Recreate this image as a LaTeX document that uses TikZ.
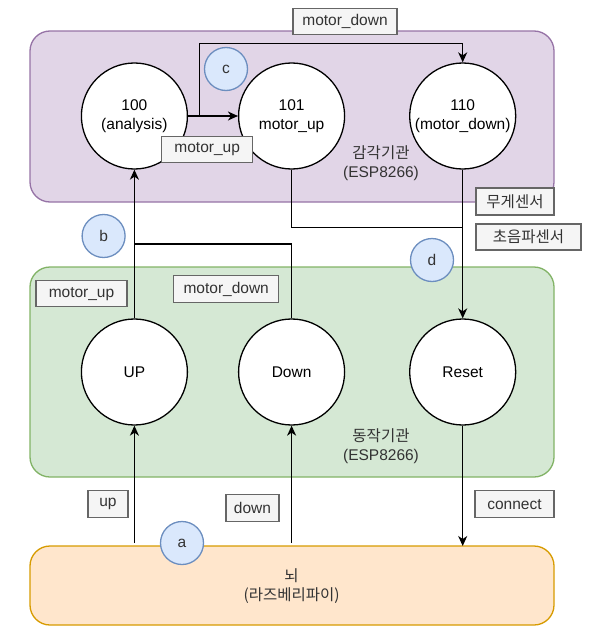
\documentclass[tikz,border=0pt]{standalone}
\usepackage{fontspec}
\setmainfont{Liberation Sans}
\newfontfamily\kr{Noto Sans CJK KR}
\usetikzlibrary{arrows.meta,calc}
\definecolor{purpF}{HTML}{E1D5E7}
\definecolor{purpD}{HTML}{9673A6}
\definecolor{greenF}{HTML}{D5E8D4}
\definecolor{greenD}{HTML}{82B366}
\definecolor{orF}{HTML}{FFE6CC}
\definecolor{orD}{HTML}{D79B00}
\definecolor{blueF}{HTML}{DAE8FC}
\definecolor{blueD}{HTML}{6C8EBF}
\definecolor{lblF}{HTML}{F5F5F5}
\definecolor{lblD}{HTML}{666666}
\definecolor{lblT}{HTML}{333333}
\tikzset{
  container/.style={rounded corners=20pt, line width=1.3pt},
  state/.style={circle, draw=black, fill=white, line width=1.3pt, minimum size=106pt, inner sep=0pt, align=center},
  tag/.style={circle, draw=blueD, fill=blueF, line width=1.3pt, minimum size=43pt, inner sep=0pt, text=lblT},
  lbl/.style={rectangle, draw=lblD, fill=lblF, line width=1.3pt, text=lblT, inner sep=0pt, minimum height=26pt},
  conn/.style={draw=black, line width=1.3pt},
  arr/.style={conn, -{Stealth[length=10pt,width=9pt,inset=3pt]}},
  txt/.style={align=center, text=lblT}
}
\begin{document}
\begin{tikzpicture}[x=1pt,y=-1pt, font=\fontsize{15.5}{18.5}\selectfont]
\useasboundingbox (0,0) rectangle (597,637);
% containers
\draw[container, draw=purpD, fill=purpF] (30,31) rectangle (554,202);
\draw[container, draw=greenD, fill=greenF] (30,267) rectangle (554,477);
\draw[container, draw=orD, fill=orF] (30,546) rectangle (554,625);
\node[txt] (sense) at (381,163) {{\kr 감각기관}\\(ESP8266)};
\node[txt] (act) at (381,446) {{\kr 동작기관}\\(ESP8266)};
\node[txt] (brainT) at (291.6,586) {{\kr 뇌}\\{\kr (라즈베리파이)}};
\coordinate (brain) at (291.6,546);
% states
\node[state] (n100) at (134.4,116) {100\\(analysis)};
\node[state] (n101) at (291.6,116) {101\\motor\_up};
\node[state] (n110) at (462.7,116) {110\\(motor\_down)};
\node[state] (nUP) at (134.4,372) {UP};
\node[state] (nDown) at (291.6,372) {Down};
\node[state] (nReset) at (462.7,372) {Reset};
% helper coordinates
\coordinate (j1) at (199.6,116);
\coordinate (topc) at (199.6,43.3);
\coordinate (m1) at (462.7,227.7);
\coordinate (j2) at (134.4,244);
\coordinate (bUp) at (134.4,543);
\coordinate (bDown) at (291.6,543);
\coordinate (bReset) at (462.7,546);
% connectors
\draw[arr] (n100.east) -- (n101.west);
\draw[arr] (j1) -- (topc) -| (n110.north);
\draw[conn] (n101.south) |- (m1);
\draw[arr] (n110.south) -- (nReset.north);
\draw[arr] (nUP.north) -- (n100.south);
\draw[conn] (nDown.north) |- (j2);
\draw[arr] (bUp) -- (nUP.south);
\draw[arr] (bDown) -- (nDown.south);
\draw[arr] (nReset.south) -- (bReset);
% labels
\node[lbl, minimum width=104pt] (l1) at (345,21.3) {motor\_down};
\node[lbl, minimum width=91pt] (l2) at (207.2,149.2) {motor\_up};
\node[lbl, minimum width=78pt, minimum height=27pt] (l3) at (515,201.5) {\kr 무게센서};
\node[lbl, minimum width=105pt] (l4) at (528.5,237) {\kr 초음파센서};
\node[lbl, minimum width=91pt] (l5) at (81.5,293.7) {motor\_up};
\node[lbl, minimum width=105pt, minimum height=27pt] (l6) at (226.2,289.3) {motor\_down};
\node[lbl, minimum width=40pt, minimum height=27pt] (l7) at (108,504.2) {up};
\node[lbl, minimum width=53pt, minimum height=27.5pt] (l8) at (252.5,508) {down};
\node[lbl, minimum width=79pt, minimum height=27pt] (l9) at (514.5,504.2) {connect};
% tags
\node[tag] (ta) at (182,543) {a};
\node[tag] (tb) at (103.6,236) {b};
\node[tag] (tc) at (226,69) {c};
\node[tag] (td) at (432,260) {d};
\end{tikzpicture}
\end{document}
